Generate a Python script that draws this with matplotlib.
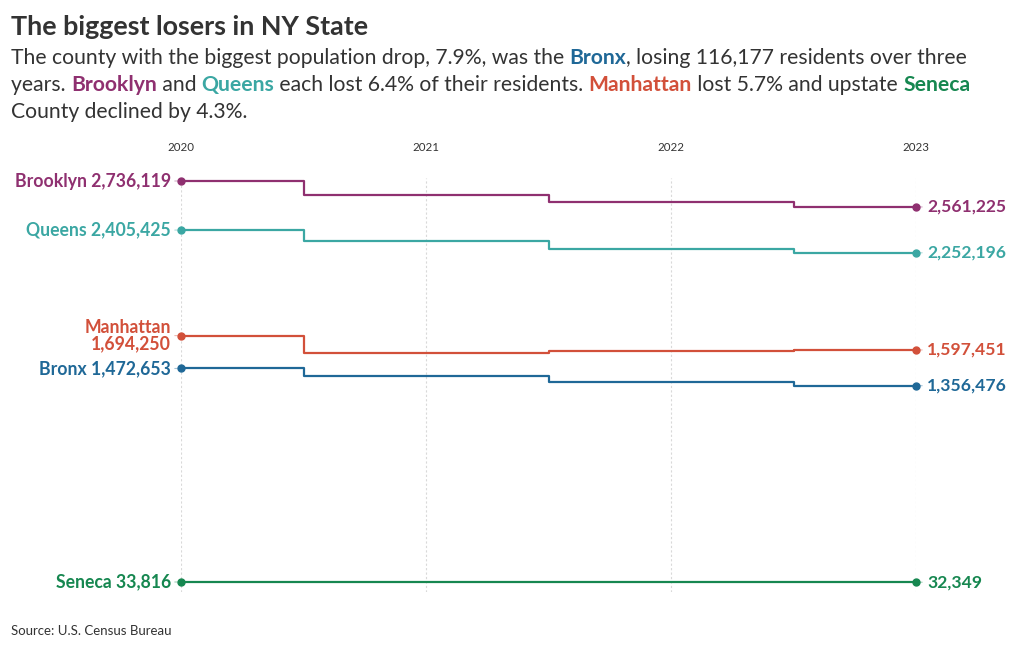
import matplotlib.pyplot as plt
from matplotlib.font_manager import FontProperties

plt.rcParams['font.family'] = ['Lato', 'DejaVu Sans']

years = [2020, 2021, 2022, 2023]
counties = ["Brooklyn", "Queens", "Manhattan", "Bronx", "Seneca"]
brooklyn = [2736119, 2641000, 2592000, 2561225]
queens = [2405425, 2330000, 2278000, 2252196]
manhattan = [1694250, 1577000, 1589000, 1597451]
bronx = [1472653, 1425000, 1379000, 1356476]
seneca = [33816, 33700, 33200, 32349]
colors = ["#8f3070", "#3ba7a3", "#d2503a", "#1f6897", "#168750"]
left_labels = ["Brooklyn 2,736,119", "Queens 2,405,425", "Manhattan\n1,694,250",
               "Bronx 1,472,653", "Seneca 33,816"]
series = [brooklyn, queens, manhattan, bronx, seneca]

W, H = 1020, 650
fig = plt.figure(figsize=(W / 100, H / 100), dpi=100)
ax = fig.add_axes([181 / W, 1 - 592 / H, 735 / W, (592 - 178) / H])
ax.set_xlim(2020, 2023)
ax.set_ylim(-33574, 2756336)

for vals, c, lab in zip(series, colors, left_labels):
    ax.plot(years, vals, drawstyle='steps-mid', color=c, lw=1.6, clip_on=False)
    ax.plot([years[0], years[-1]], [vals[0], vals[-1]], 'o', color=c, ms=5, clip_on=False)
    # short connectors to labels
    ax.annotate("", xy=(years[0], vals[0]), xytext=(-9, 0), textcoords='offset pixels',
                arrowprops=dict(arrowstyle='-', color=c, lw=0.8, alpha=0.4, ls=(0, (2, 1))),
                annotation_clip=False)
    ax.annotate("", xy=(years[-1], vals[-1]), xytext=(9, 0), textcoords='offset pixels',
                arrowprops=dict(arrowstyle='-', color=c, lw=0.8, alpha=0.4, ls=(0, (2, 1))),
                annotation_clip=False)
    ax.annotate(lab, xy=(years[0], vals[0]), xytext=(-10, 0), textcoords='offset pixels',
                ha='right', va='center', fontsize=12.7, fontweight='bold', color=c,
                linespacing=0.9, annotation_clip=False)
    ax.annotate(f"{vals[-1]:,}", xy=(years[-1], vals[-1]), xytext=(11, 0),
                textcoords='offset pixels', ha='left', va='center', fontsize=12.6,
                fontweight='bold', color=c, annotation_clip=False)

ax.set_xticks(years)
ax.set_xticklabels([str(y) for y in years])
ax.xaxis.set_ticks_position('top')
ax.tick_params(axis='x', length=0, pad=18, labelsize=8.3, labelcolor='#333333')
ax.set_yticks([])
for s in ax.spines.values():
    s.set_visible(False)
ax.grid(axis='x', color='#d9d9d9', lw=0.8, ls=(0, (2, 2)))
ax.set_axisbelow(True)

# title and subtitle
fig.text(11 / W, 1 - 27 / H, "The biggest losers in NY State", fontsize=19.4,
         fontweight='bold', color='#333333', va='center', ha='left')

dark = '#333333'
lines = [
    [("The county with the biggest population drop, 7.9%, was the ", dark, 'normal'),
     ("Bronx", colors[3], 'bold'),
     (", losing 116,177 residents over three", dark, 'normal')],
    [("years. ", dark, 'normal'), ("Brooklyn", colors[0], 'bold'), (" and ", dark, 'normal'),
     ("Queens", colors[1], 'bold'), (" each lost 6.4% of their residents. ", dark, 'normal'),
     ("Manhattan", colors[2], 'bold'), (" lost 5.7% and upstate ", dark, 'normal'),
     ("Seneca", colors[4], 'bold')],
    [("County declined by 4.3%.", dark, 'normal')],
]
renderer = fig.canvas.get_renderer()
sub_size = 15.2


def text_width(s, weight):
    fp = FontProperties(family=['Lato', 'DejaVu Sans'], size=sub_size, weight=weight)
    w1, _, _ = renderer.get_text_width_height_descent(s + ".", fp, ismath=False)
    w2, _, _ = renderer.get_text_width_height_descent(".", fp, ismath=False)
    return w1 - w2


for i, parts in enumerate(lines):
    x = 11
    y = 1 - (58 + 27 * i) / H
    for s, c, wt in parts:
        fig.text(x / W, y, s, fontsize=sub_size, color=c, fontweight=wt, va='center', ha='left')
        x += text_width(s, wt)

fig.text(11 / W, 1 - 631 / H, "Source: U.S. Census Bureau", fontsize=9.5, color='#333333',
         va='center', ha='left')

fig.savefig("out.png", dpi=100)
